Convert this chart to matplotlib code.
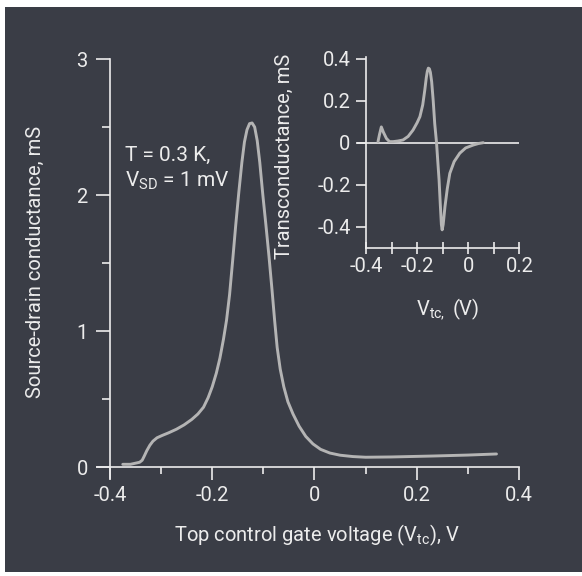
import matplotlib
matplotlib.use("Agg")
import matplotlib.pyplot as plt
from matplotlib.patches import Rectangle
from matplotlib.ticker import MultipleLocator, FixedLocator

# main trace: source-drain conductance (mS) vs top control gate voltage (V)
vtc = [-0.375, -0.36, -0.348, -0.342, -0.337, -0.333, -0.328, -0.322, -0.316,
       -0.308, -0.298, -0.285, -0.27, -0.255, -0.24, -0.228, -0.217, -0.208,
       -0.200, -0.192, -0.185, -0.178, -0.172, -0.166, -0.160, -0.154, -0.148,
       -0.142, -0.137, -0.132, -0.127, -0.122, -0.117, -0.112, -0.107, -0.101,
       -0.095, -0.089, -0.083, -0.078, -0.073, -0.067, -0.060, -0.052, -0.042,
       -0.030, -0.017, -0.003, 0.012, 0.030, 0.050, 0.075, 0.100, 0.150,
       0.232, 0.300, 0.356]
gsd = [0.02, 0.02, 0.03, 0.035, 0.05, 0.08, 0.12, 0.16, 0.19,
       0.215, 0.232, 0.252, 0.278, 0.31, 0.35, 0.39, 0.44, 0.51,
       0.59, 0.69, 0.80, 0.94, 1.08, 1.27, 1.52, 1.78, 2.02,
       2.24, 2.39, 2.48, 2.525, 2.53, 2.50, 2.40, 2.24, 2.00,
       1.78, 1.55, 1.30, 1.08, 0.88, 0.72, 0.59, 0.48, 0.39,
       0.30, 0.225, 0.17, 0.13, 0.103, 0.087, 0.077, 0.072, 0.074,
       0.081, 0.088, 0.096]

# inset: transconductance (mS)
ins_v = [-0.353, -0.347, -0.340, -0.332, -0.320, -0.308, -0.294, -0.275,
         -0.255, -0.235, -0.216, -0.200, -0.189, -0.178, -0.170, -0.164,
         -0.160, -0.156, -0.152, -0.148, -0.143, -0.137, -0.131, -0.124,
         -0.119, -0.114, -0.109, -0.105, -0.102, -0.098, -0.091, -0.082,
         -0.072, -0.055, -0.033, -0.010, 0.020, 0.040, 0.059]
ins_g = [0.005, 0.04, 0.075, 0.05, 0.02, 0.005, 0.005, 0.008,
         0.013, 0.03, 0.06, 0.095, 0.124, 0.18, 0.25, 0.31,
         0.34, 0.355, 0.352, 0.335, 0.29, 0.20, 0.09, 0.0,
         -0.09, -0.178, -0.30, -0.39, -0.415, -0.39, -0.305, -0.22,
         -0.146, -0.09, -0.05, -0.025, -0.011, -0.004, 0.0]

main_xticks = [-0.4, -0.2, 0, 0.2, 0.4]
main_xlabels = ["-0.4", "-0.2", "0", "0.2", "0.4"]
main_yticks = [0, 1, 2, 3]
ins_xticks = [-0.4, -0.2, 0, 0.2]
ins_xlabels = ["-0.4", "-0.2", "0", "0.2"]
ins_yticks = [-0.4, -0.2, 0, 0.2, 0.4]
ins_ylabels = ["-0.4", "-0.2", "0", "0.2", "0.4"]

BG = "#3a3d46"
FG = "#ececec"
CURVE = "#b4b4b4"

plt.rcParams["font.family"] = ["Roboto", "DejaVu Sans"]
plt.rcParams["mathtext.default"] = "regular"
plt.rcParams["font.size"] = 14.5

fig = plt.figure(figsize=(5.82, 5.76), dpi=100)
fig.patch.set_facecolor("white")
fig.patches.append(Rectangle((0.009, 0.007), 0.991, 0.981, transform=fig.transFigure,
                             facecolor=BG, edgecolor="none", zorder=-10))


def style_axes(ax):
    ax.set_facecolor("none")
    for side in ["top", "right"]:
        ax.spines[side].set_visible(False)
    for side in ["left", "bottom"]:
        ax.spines[side].set_color(FG)
        ax.spines[side].set_linewidth(1.2)
    ax.tick_params(which="both", colors=FG, width=1.2, labelcolor=FG)


# main axes
ax = fig.add_axes([0.167, 0.1703, 0.7335, 0.739])
style_axes(ax)
ax.plot(vtc, gsd, color=CURVE, lw=2.1, solid_capstyle="round", solid_joinstyle="round")
ax.set_xlim(-0.425, 0.41)
ax.set_ylim(-0.08, 3.05)
ax.spines["left"].set_position(("data", -0.4))
ax.spines["left"].set_bounds(-0.08, 3)
ax.spines["bottom"].set_position(("data", 0))
ax.spines["bottom"].set_bounds(-0.425, 0.4)
ax.set_xticks(main_xticks)
ax.set_xticklabels(main_xlabels)
ax.xaxis.set_minor_locator(FixedLocator([-0.3, -0.1, 0.1, 0.3]))
ax.set_yticks(main_yticks)
ax.yaxis.set_minor_locator(MultipleLocator(0.5))
ax.tick_params(axis="x", which="major", direction="out", length=9, pad=5)
ax.tick_params(axis="x", which="minor", direction="out", length=5)
ax.tick_params(axis="y", which="major", direction="out", length=10, pad=6)
ax.tick_params(axis="y", which="minor", direction="out", length=6)
ax.set_xlabel("Top control gate voltage (V$_{tc}$), V", color=FG)
ax.xaxis.set_label_coords(0.515, -0.104)
ax.set_ylabel("Source-drain conductance, mS", color=FG)
ax.yaxis.set_label_coords(-0.122, 0.507)
ax.text(-0.371, 2.36, "T = 0.3 K,\nV$_{SD}$ = 1 mV", color=FG, va="top", ha="left",
        linespacing=1.3, fontsize=15)

# inset axes
ins = fig.add_axes([0.6113, 0.5627, 0.2854, 0.3427])
style_axes(ins)
ins.hlines(0, -0.436, 0.2, color=FG, lw=1.2)
ins.plot(ins_v, ins_g, color=CURVE, lw=2.1, solid_capstyle="round", solid_joinstyle="round")
ins.set_xlim(-0.44, 0.21)
ins.set_ylim(-0.52, 0.42)
ins.spines["left"].set_position(("data", -0.4))
ins.spines["left"].set_bounds(-0.5, 0.41)
ins.spines["bottom"].set_position(("data", -0.5))
ins.spines["bottom"].set_bounds(-0.4, 0.2)
ins.set_xticks(ins_xticks)
ins.set_xticklabels(ins_xlabels)
ins.xaxis.set_minor_locator(FixedLocator([-0.3, -0.1, 0.1]))
ins.set_yticks(ins_yticks)
ins.set_yticklabels(ins_ylabels)
ins.tick_params(axis="x", which="both", direction="inout", length=8, pad=3)
ins.tick_params(axis="y", which="major", direction="out", length=7, pad=4)
ins.set_xlabel("V$_{tc,}$ (V)", color=FG)
ins.xaxis.set_label_coords(0.555, -0.225)
ins.set_ylabel("Transconductance, mS", color=FG)
ins.yaxis.set_label_coords(-0.372, 0.486)

fig.savefig("out.png", dpi=100, facecolor=fig.get_facecolor())
